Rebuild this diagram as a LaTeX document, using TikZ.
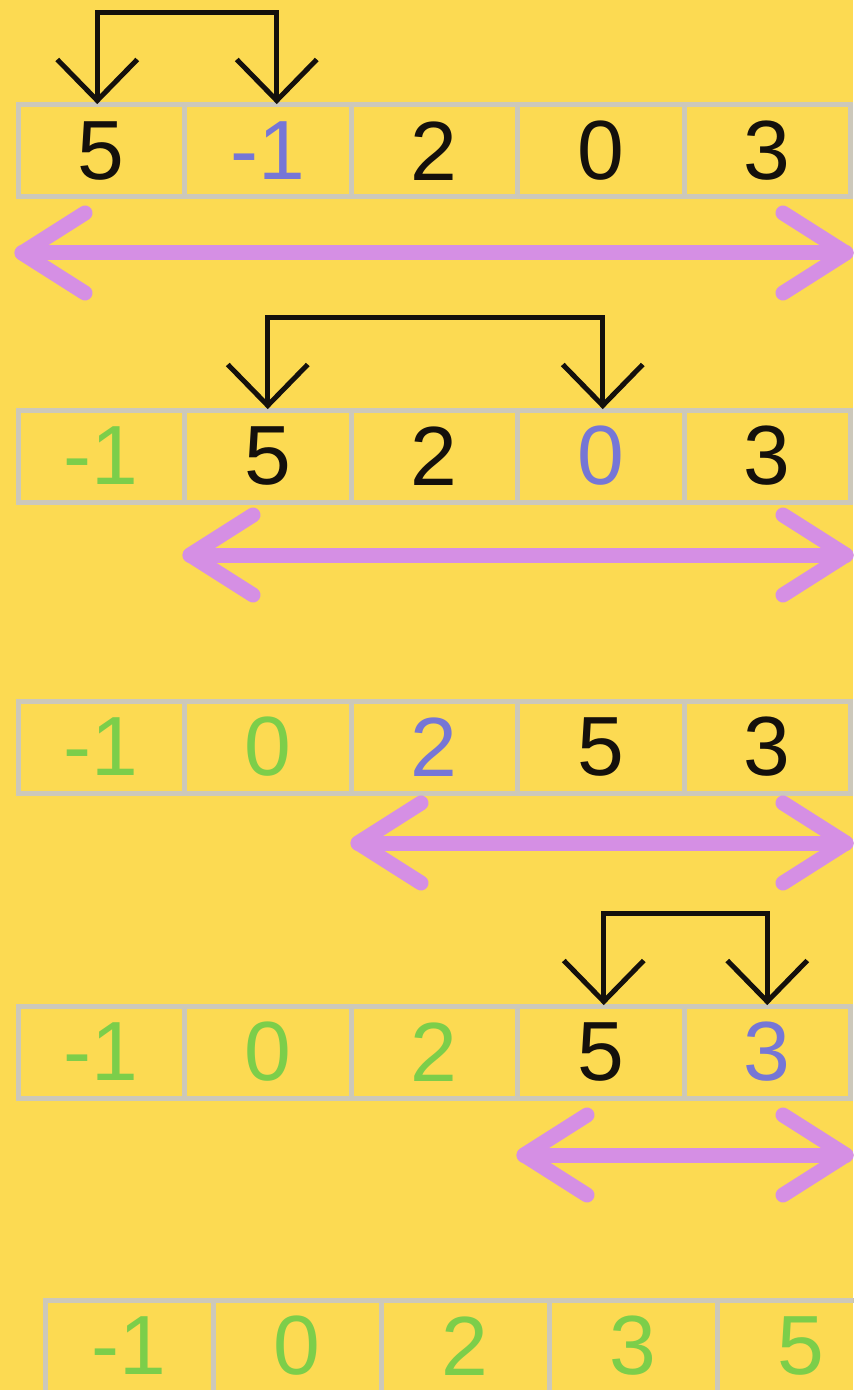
\documentclass[tikz,border=0pt]{standalone}
\usepackage{fontspec}
\setmainfont{Liberation Sans}
\usetikzlibrary{calc}
\definecolor{bg}{RGB}{252,218,82}
\definecolor{cellgray}{RGB}{204,200,186}
\definecolor{ink}{RGB}{20,16,12}
\definecolor{blu}{RGB}{118,118,214}
\definecolor{grn}{RGB}{124,206,74}
\definecolor{purp}{RGB}{213,143,228}
\tikzset{
  cell/.style={draw=cellgray, line width=2.5pt, minimum width=83.25pt, minimum height=46pt, inner sep=0pt,
    font=\fontsize{42pt}{50pt}\selectfont},
  wide/.style={minimum width=84pt},
  tblack/.style={text=ink},
  tblue/.style={text=blu},
  tgreen/.style={text=grn},
  swapline/.style={draw=ink, line width=2.5pt, line join=miter},
  rangeline/.style={draw=purp, line width=7.5pt, line cap=round, line join=round},
}
\begin{document}
\begin{tikzpicture}[x=0.5pt,y=-0.5pt]
\fill[bg] (0,0) rectangle (853,1390);
\useasboundingbox (0,0) rectangle (853,1390);

% ---------- row 1 ----------
\node[cell,tblack] (r1c1) at (101.25,151) {5};
\node[cell,tblue]  (r1c2) at (267.75,151) {-1};
\node[cell,tblack] (r1c3) at (434.25,151) {2};
\node[cell,tblack] (r1c4) at (600.75,151) {0};
\node[cell,tblack] (r1c5) at (767.25,151) {3};

% ---------- row 2 ----------
\node[cell,tgreen] (r2c1) at (101.25,456) {-1};
\node[cell,tblack] (r2c2) at (267.75,456) {5};
\node[cell,tblack] (r2c3) at (434.25,456) {2};
\node[cell,tblue]  (r2c4) at (600.75,456) {0};
\node[cell,tblack] (r2c5) at (767.25,456) {3};

% ---------- row 3 ----------
\node[cell,tgreen] (r3c1) at (101.25,747) {-1};
\node[cell,tgreen] (r3c2) at (267.75,747) {0};
\node[cell,tblue]  (r3c3) at (434.25,747) {2};
\node[cell,tblack] (r3c4) at (600.75,747) {5};
\node[cell,tblack] (r3c5) at (767.25,747) {3};

% ---------- row 4 ----------
\node[cell,tgreen] (r4c1) at (101.25,1052) {-1};
\node[cell,tgreen] (r4c2) at (267.75,1052) {0};
\node[cell,tgreen] (r4c3) at (434.25,1052) {2};
\node[cell,tblack] (r4c4) at (600.75,1052) {5};
\node[cell,tblue]  (r4c5) at (767.25,1052) {3};

% ---------- row 5 ----------
\node[cell,wide,tgreen] (r5c1) at (129,1346) {-1};
\node[cell,wide,tgreen] (r5c2) at (297,1346) {0};
\node[cell,wide,tgreen] (r5c3) at (465,1346) {2};
\node[cell,wide,tgreen] (r5c4) at (633,1346) {3};
\node[cell,wide,tgreen] (r5c5) at (801,1346) {5};

% ---------- swap arrows ----------
\foreach \a/\ax/\b/\bx in {r1c1/-4/r1c2/9, r2c2/0/r2c4/2, r4c4/3/r4c5/0}{
  \coordinate (sa) at ($(\a.north)+(\ax,-2)$);
  \coordinate (sb) at ($(\b.north)+(\bx,-2)$);
  \draw[swapline] (sa) -- ++(0,-88) -| (sb);
  \draw[swapline] ($(sa)+(-40,-41)$) -- (sa) -- ($(sa)+(40,-41)$);
  \draw[swapline] ($(sb)+(-40,-41)$) -- (sb) -- ($(sb)+(40,-41)$);
}

% ---------- range arrows ----------
\coordinate (p1l) at (22,253);  \coordinate (p1r) at (846,253);
\coordinate (p2l) at (190,555); \coordinate (p2r) at (846,555);
\coordinate (p3l) at (358,843); \coordinate (p3r) at (846,843);
\coordinate (p4l) at (524,1155); \coordinate (p4r) at (846,1155);
\foreach \l/\r in {p1l/p1r, p2l/p2r, p3l/p3r, p4l/p4r}{
  \draw[rangeline] (\l) -- (\r);
  \draw[rangeline] ($(\l)+(63,-40)$) -- (\l) -- ($(\l)+(63,40)$);
  \draw[rangeline] ($(\r)+(-63,-40)$) -- (\r) -- ($(\r)+(-63,40)$);
}
\end{tikzpicture}
\end{document}
